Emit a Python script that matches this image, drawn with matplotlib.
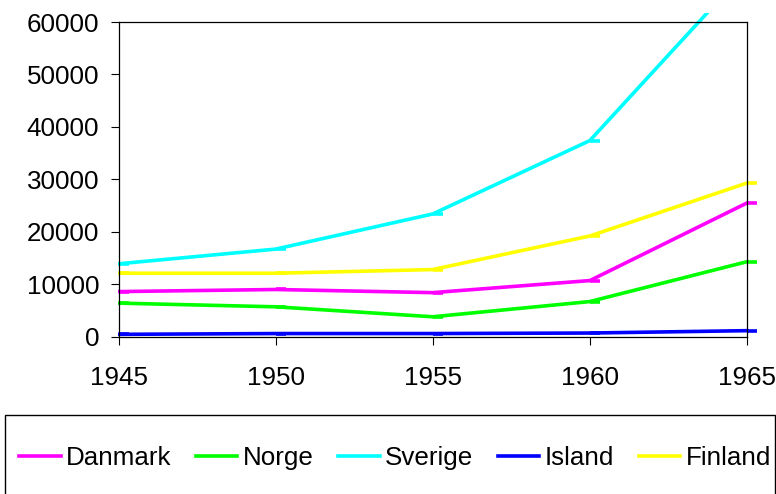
import matplotlib
matplotlib.use("Agg")
import matplotlib.pyplot as plt
from matplotlib.lines import Line2D
from matplotlib.patches import Rectangle
from matplotlib.transforms import Bbox, TransformedBbox

plt.rcParams['font.family'] = ['Liberation Sans', 'DejaVu Sans']

years = [1945, 1950, 1955, 1960, 1965]
danmark = [8600, 9000, 8400, 10700, 25500]
norge = [6400, 5700, 3800, 6700, 14300]
sverige = [13900, 16700, 23400, 37400, 70000]
island = [450, 600, 600, 700, 1150]
finland = [12100, 12100, 12800, 19200, 29300]

series = [
    ("Danmark", danmark, "#ff00ff"),
    ("Norge", norge, "#00ff00"),
    ("Sverige", sverige, "#00ffff"),
    ("Island", island, "#0000ff"),
    ("Finland", finland, "#ffff00"),
]

W, H = 776, 494
fig = plt.figure(figsize=(W / 100, H / 100), dpi=100)
ax = fig.add_axes([118.5 / W, 1 - 336.7 / H, (747 - 118.5) / W, (336.7 - 22) / H])

# half dash marker (excel style)
dash = [(0, 0), (1, 0)]
clip = TransformedBbox(Bbox([[118 / W, 0], [1, 1 - 13 / H]]), fig.transFigure)

handles = []
for name, vals, col in series:
    ln, = ax.plot(years, vals, color=col, lw=2.6, marker=dash, ms=14,
                  mew=2.6, mec=col, solid_joinstyle='miter')
    ln.set_clip_box(clip)
    handles.append(Line2D([], [], color=col, lw=2.6))

ax.set_xlim(1945, 1965)
ax.set_ylim(0, 60000)
ax.set_xticks(years)
ax.set_yticks(range(0, 60001, 10000))
ax.tick_params(axis='both', direction='out', length=6, width=0.8, labelsize=18.7)
ax.tick_params(axis='y', pad=8)
ax.tick_params(axis='x', pad=15)
for s in ax.spines.values():
    s.set_linewidth(0.9)
    s.set_color('black')

fig.patches.append(Rectangle((5 / W, -0.1), (775 - 5) / W, 1.1 - 415 / H,
                             transform=fig.transFigure, fill=False,
                             edgecolor='black', lw=1.0, figure=fig))

fig.legend(handles=handles, labels=[s[0] for s in series],
           loc='center left', bbox_to_anchor=(19 / W, 1 - 458 / H),
           ncol=5, frameon=False, fontsize=18.7, handlelength=1.6,
           handletextpad=0.2, columnspacing=0.95, borderaxespad=0,
           borderpad=0)

fig.savefig("out.png", dpi=100)
